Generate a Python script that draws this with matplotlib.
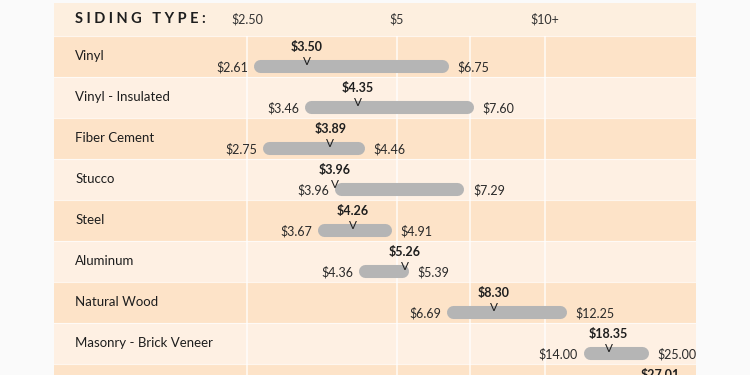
import numpy as np
import matplotlib.pyplot as plt

plt.rcParams['font.family'] = ['Lato', 'DejaVu Sans']

# cost per square foot, installed
siding_types = ['Vinyl', 'Vinyl - Insulated', 'Fiber Cement', 'Stucco', 'Steel',
                'Aluminum', 'Natural Wood', 'Masonry - Brick Veneer', '']
low_price = [2.61, 3.46, 2.75, 3.96, 3.67, 4.36, 6.69, 14.00, np.nan]
avg_price = [3.50, 4.35, 3.89, 3.96, 4.26, 5.26, 8.30, 18.35, 27.01]
high_price = [6.75, 7.60, 4.46, 7.29, 4.91, 5.39, 12.25, 25.00, np.nan]

tick_values = [2.5, 5, 10]
tick_labels = ['$2.50', '$5', '$10+']
grid_values = [2.5, 5, 7.5, 10]

# the price axis is stretched below $5 and squeezed above $10
scale_prices = [-5, 2.5, 5, 7.5, 10, 14, 25, 100]
scale_pos = [-450, 0, 150, 223, 298, 336, 401, 843]


def forward(v):
    return np.interp(v, scale_prices, scale_pos)


def inverse(p):
    return np.interp(p, scale_pos, scale_prices)


header_bg = '#fdefdf'
dark_row = '#fde3c8'
light_row = '#fef0e3'
bar_color = '#b5b5b5'
text_color = '#1e1e1e'

fig = plt.figure(figsize=(7.5, 3.75), dpi=100, facecolor='#fafafa')
ax = fig.add_axes([54 / 750, 0, 642 / 750, 372 / 375])
ax.set_xscale('function', functions=(forward, inverse))
ax.set_xlim(inverse(-193), inverse(449))
header_h = 0.805
ax.set_ylim(8.27, -header_h)
ax.axis('off')

ax.axhspan(-header_h, 0, color=header_bg, lw=0)
for i in range(len(siding_types)):
    ax.axhspan(i, i + 1, color=dark_row if i % 2 == 0 else light_row, lw=0)
    ax.axhline(i, color='white', lw=0.8, alpha=0.7)
ax.vlines(grid_values, 0, len(siding_types), colors='white', lw=1.1, alpha=0.85)

# header
ax.text(0.033, -header_h / 2, 'S I D I N G   T Y P E :', transform=ax.get_yaxis_transform(),
        fontsize=10.5, fontweight='bold', color=text_color, va='center', ha='left')
for v, lab in zip(tick_values, tick_labels):
    ax.text(v, -header_h / 2, lab, fontsize=9, color='#333333', ha='center', va='center')

cap = 6.5  # half of the bar thickness, in scale units (1 unit = 1 px)
for i, name in enumerate(siding_types):
    ax.text(0.033, i + 0.5, name, transform=ax.get_yaxis_transform(),
            fontsize=9.5, color=text_color, va='center', ha='left')
    lo, mid, hi = low_price[i], avg_price[i], high_price[i]
    if not np.isnan(lo):
        # pull the ends in so the rounded caps finish at the low / high price
        x0 = inverse(forward(lo) + cap)
        x1 = inverse(forward(hi) - cap)
        ax.plot([x0, x1], [i + 0.73, i + 0.73], color=bar_color, lw=9.4,
                solid_capstyle='round')
        ax.annotate(f'${lo:.2f}', (lo, i + 0.76), xytext=(-3.5, 0), textcoords='offset points',
                    ha='right', va='center', fontsize=9, color='#2a2a2a')
        ax.annotate(f'${hi:.2f}', (hi, i + 0.76), xytext=(6.5, 0), textcoords='offset points',
                    ha='left', va='center', fontsize=9, color='#2a2a2a')
        ax.text(mid, i + 0.62, 'V', fontsize=8.5, color=text_color, ha='center', va='center')
    ax.text(mid, i + 0.27, f'${mid:.2f}', fontsize=9, fontweight='bold', color=text_color,
            ha='center', va='center')

fig.savefig('out.png', dpi=100, facecolor=fig.get_facecolor())
